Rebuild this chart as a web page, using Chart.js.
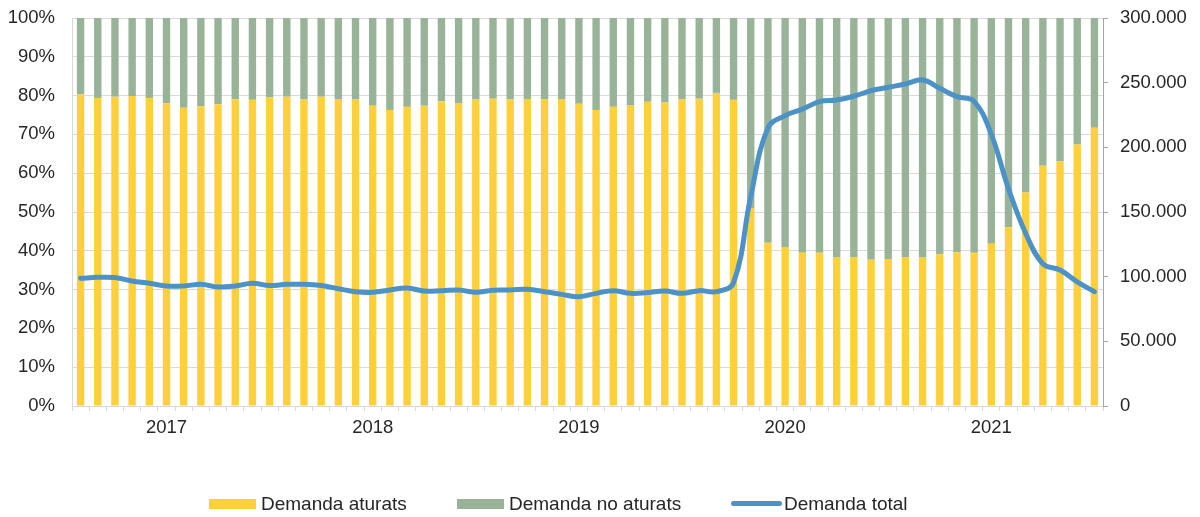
<!DOCTYPE html>
<html>
<head>
<meta charset="utf-8">
<script src="https://cdn.jsdelivr.net/npm/chart.js@4/dist/chart.umd.min.js"></script>
<style>
  html, body { margin: 0; padding: 0; background: #ffffff; }
  #wrap { position: relative; width: 1200px; height: 517px; }
  #c { position: absolute; left: 0; top: 0; }
  .lg { position: absolute; font-family: "Liberation Sans", Arial, sans-serif; font-size: 19px; color: #262626; line-height: 20px; white-space: nowrap; }
  .sw { position: absolute; }
</style>
</head>
<body>
<div id="wrap">
  <canvas id="c" width="1200" height="517"></canvas>
  <div class="sw" style="left:209px; top:499px; width:47px; height:10px; background:#FFD03A;"></div>
  <div class="lg" style="left:261px; top:494px;">Demanda aturats</div>
  <div class="sw" style="left:457px; top:499px; width:47px; height:10px; background:#99B398;"></div>
  <div class="lg" style="left:509px; top:494px;">Demanda no aturats</div>
  <div class="sw" style="left:731px; top:501px; width:51px; height:5px; border-radius:3px; background:#4C92C6;"></div>
  <div class="lg" style="left:784px; top:494px;">Demanda total</div>
</div>
<script>
// Months from Aug 2016 to Jul 2021 (60 categories)
const categories = [
  '2016-08','2016-09','2016-10','2016-11','2016-12',
  '2017-01','2017-02','2017-03','2017-04','2017-05','2017-06','2017-07','2017-08','2017-09','2017-10','2017-11','2017-12',
  '2018-01','2018-02','2018-03','2018-04','2018-05','2018-06','2018-07','2018-08','2018-09','2018-10','2018-11','2018-12',
  '2019-01','2019-02','2019-03','2019-04','2019-05','2019-06','2019-07','2019-08','2019-09','2019-10','2019-11','2019-12',
  '2020-01','2020-02','2020-03','2020-04','2020-05','2020-06','2020-07','2020-08','2020-09','2020-10','2020-11','2020-12',
  '2021-01','2021-02','2021-03','2021-04','2021-05','2021-06','2021-07'
];
const yearTickLabels = ['2017','2018','2019','2020','2021'];

// Share of demand (%)
const demandaAturats = [
  80.3, 79.4, 79.7, 79.9, 79.4,
  78.0, 76.9, 77.2, 77.8, 79.0, 78.9, 79.5, 79.7, 79.0, 79.7, 79.1, 79.1,
  77.4, 76.3, 77.1, 77.4, 78.5, 78.1, 79.1, 79.2, 79.0, 79.1, 79.0, 79.1,
  77.9, 76.3, 77.1, 77.6, 78.4, 78.2, 79.0, 79.2, 80.7, 78.9, 51.0, 42.1,
  41.0, 39.5, 39.5, 38.4, 38.4, 37.7, 37.9, 38.4, 38.4, 39.1, 39.6, 39.5,
  41.8, 46.1, 55.0, 61.9, 63.1, 67.4, 71.7
];
const demandaNoAturats = [
  19.7, 20.6, 20.3, 20.1, 20.6,
  22.0, 23.1, 22.8, 22.2, 21.0, 21.1, 20.5, 20.3, 21.0, 20.3, 20.9, 20.9,
  22.6, 23.7, 22.9, 22.6, 21.5, 21.9, 20.9, 20.8, 21.0, 20.9, 21.0, 20.9,
  22.1, 23.7, 22.9, 22.4, 21.6, 21.8, 21.0, 20.8, 19.3, 21.1, 49.0, 57.9,
  59.0, 60.5, 60.5, 61.6, 61.6, 62.3, 62.1, 61.6, 61.6, 60.9, 60.4, 60.5,
  58.2, 53.9, 45.0, 38.1, 36.9, 32.6, 28.3
];
// Total demand (persons)
const demandaTotal = [
  98700, 99500, 99300, 96600, 94900,
  92800, 92800, 94100, 92000, 92800, 94900, 93100, 94100, 94100, 93100, 90700, 88400,
  87900, 89700, 91200, 88900, 89200, 89700, 87900, 89500, 89700, 90200, 88400, 86300,
  84500, 87100, 89200, 87100, 87700, 88900, 87100, 89200, 88400, 95400, 162000, 215000,
  224500, 229500, 235300, 236600, 239500, 243800, 246400, 249000, 252100, 245600, 239200, 235500,
  210000, 168000, 133500, 110000, 105200, 96000, 88400
];

const FONT = '"Liberation Sans", Arial, sans-serif';
const TXT = '#262626';

function noVertPad(s) { s.paddingTop = 0; s.paddingBottom = 0; }

new Chart(document.getElementById('c'), {
  data: {
    labels: categories,
    datasets: [
      { type: 'line', label: 'Demanda total', data: demandaTotal, yAxisID: 'y1',
        borderColor: '#4C92C6', borderWidth: 5, pointRadius: 0, tension: 0.4,
        cubicInterpolationMode: 'default', borderCapStyle: 'round', borderJoinStyle: 'round', order: 0 },
      { type: 'bar', label: 'Demanda aturats', data: demandaAturats, yAxisID: 'y',
        backgroundColor: '#FFD03A', barPercentage: 0.43, categoryPercentage: 1.0, order: 1, stack: 's' },
      { type: 'bar', label: 'Demanda no aturats', data: demandaNoAturats, yAxisID: 'y',
        backgroundColor: '#99B398', barPercentage: 0.43, categoryPercentage: 1.0, order: 1, stack: 's' }
    ]
  },
  options: {
    responsive: false,
    animation: false,
    layout: { padding: { top: 18, left: 0, right: 0, bottom: 0 } },
    plugins: { legend: { display: false }, tooltip: { enabled: false } },
    scales: {
      x: {
        stacked: true,
        offset: true,
        grid: { drawOnChartArea: false, offset: true, tickLength: 5, color: '#d9d9d9', lineWidth: 1 },
        border: { color: '#d9d9d9' },
        ticks: {
          autoSkip: false, maxRotation: 0, minRotation: 0, padding: 6,
          color: TXT, font: { family: FONT, size: 18.5 },
          callback: function (v, i) {
            const c = categories[i];
            if (c.slice(5) === '01') {
              const y = c.slice(0, 4);
              return yearTickLabels.includes(y) ? y : '';
            }
            return '';
          }
        },
        afterFit: function (s) { s.height = 111; s.paddingLeft = 0; s.paddingRight = 0; }
      },
      y: {
        stacked: true, position: 'left', min: 0, max: 100,
        grid: { color: '#d9d9d9', drawTicks: false, lineWidth: 1 },
        border: { color: '#d9d9d9' },
        ticks: { stepSize: 10, padding: 17, color: TXT, font: { family: FONT, size: 18.5 },
                 callback: v => v + '%' },
        afterFit: function (s) { s.width = 72; noVertPad(s); }
      },
      y1: {
        position: 'right', min: 0, max: 300000,
        grid: { drawOnChartArea: false, tickLength: 5, color: '#a6a6a6' },
        border: { color: '#a6a6a6' },
        ticks: { stepSize: 50000, padding: 12, color: TXT, font: { family: FONT, size: 18.5 },
                 callback: v => v === 0 ? '0' : Math.round(v).toString().replace(/\B(?=(\d{3})+(?!\d))/g, '.') },
        afterFit: function (s) { s.width = 97; noVertPad(s); }
      }
    }
  }
});
</script>
</body>
</html>
